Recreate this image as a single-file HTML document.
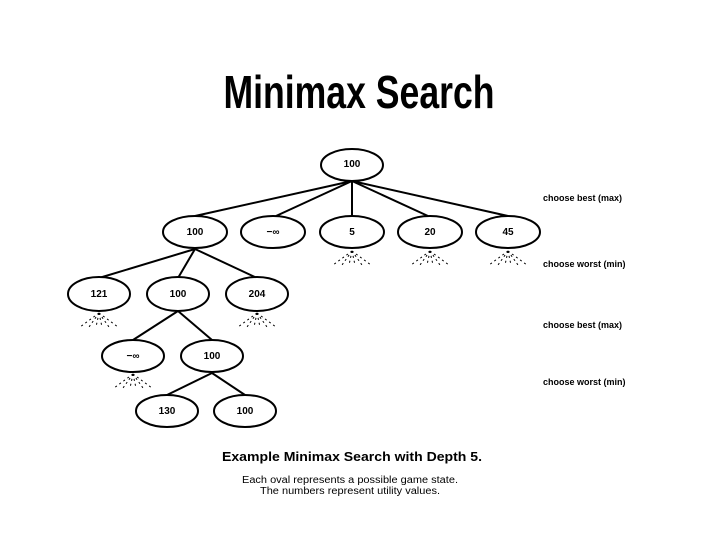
<!DOCTYPE html>
<html><head><style>html,body{margin:0;padding:0;background:#fff}</style></head>
<body>
<svg width="719" height="539" xmlns="http://www.w3.org/2000/svg" font-family="Liberation Sans, sans-serif">
<text x="359" y="108" font-size="46" font-weight="bold" text-anchor="middle" textLength="271" lengthAdjust="spacingAndGlyphs">Minimax Search</text>
<g stroke="#000" stroke-width="2" fill="none">
<line x1="352" y1="181" x2="195" y2="216"/>
<line x1="352" y1="181" x2="276" y2="216"/>
<line x1="352" y1="181" x2="352" y2="216"/>
<line x1="352" y1="181" x2="428" y2="216"/>
<line x1="352" y1="181" x2="508" y2="216"/>
<line x1="195" y1="249" x2="99" y2="278"/>
<line x1="195" y1="249" x2="178" y2="278"/>
<line x1="195" y1="249" x2="257" y2="278"/>
<line x1="178" y1="311" x2="133" y2="340"/>
<line x1="178" y1="311" x2="212" y2="340"/>
<line x1="212" y1="373" x2="167" y2="395"/>
<line x1="212" y1="373" x2="245" y2="395"/>
</g>
<defs>
<g id="fan" stroke="#000" stroke-width="1" stroke-dasharray="2,3">
<line x1="0" y1="2" x2="-19" y2="16"/>
<line x1="0" y1="2" x2="-10" y2="16"/>
<line x1="0" y1="2" x2="-3" y2="16"/>
<line x1="0" y1="2" x2="3" y2="16"/>
<line x1="0" y1="2" x2="10" y2="16"/>
<line x1="0" y1="2" x2="19" y2="16"/>
</g>
</defs>
<use href="#fan" x="352" y="249"/>
<use href="#fan" x="430" y="249"/>
<use href="#fan" x="508" y="249"/>
<use href="#fan" x="99" y="311"/>
<use href="#fan" x="257" y="311"/>
<use href="#fan" x="133" y="372"/>
<g stroke="#000" stroke-width="2" fill="#fff">
<ellipse cx="352" cy="165" rx="31" ry="16"/>
<ellipse cx="195" cy="232" rx="32" ry="16"/>
<ellipse cx="273" cy="232" rx="32" ry="16"/>
<ellipse cx="352" cy="232" rx="32" ry="16"/>
<ellipse cx="430" cy="232" rx="32" ry="16"/>
<ellipse cx="508" cy="232" rx="32" ry="16"/>
<ellipse cx="99" cy="294" rx="31" ry="17"/>
<ellipse cx="178" cy="294" rx="31" ry="17"/>
<ellipse cx="257" cy="294" rx="31" ry="17"/>
<ellipse cx="133" cy="356" rx="31" ry="16"/>
<ellipse cx="212" cy="356" rx="31" ry="16"/>
<ellipse cx="167" cy="411" rx="31" ry="16"/>
<ellipse cx="245" cy="411" rx="31" ry="16"/>
</g>
<g font-size="10" font-weight="bold" text-anchor="middle">
<text x="352" y="167">100</text>
<text x="195" y="235">100</text>
<text x="273" y="235">−∞</text>
<text x="352" y="235">5</text>
<text x="430" y="235">20</text>
<text x="508" y="235">45</text>
<text x="99" y="297">121</text>
<text x="178" y="297">100</text>
<text x="257" y="297">204</text>
<text x="133" y="359">−∞</text>
<text x="212" y="359">100</text>
<text x="167" y="414">130</text>
<text x="245" y="414">100</text>
</g>
<g font-size="9" font-weight="bold">
<text x="543" y="201">choose best (max)</text>
<text x="543" y="267">choose worst (min)</text>
<text x="543" y="328">choose best (max)</text>
<text x="543" y="385">choose worst (min)</text>
</g>
<text x="352" y="461" font-size="13" font-weight="bold" text-anchor="middle" textLength="260" lengthAdjust="spacingAndGlyphs">Example Minimax Search with Depth 5.</text>
<text x="350" y="483" font-size="10" text-anchor="middle" textLength="216" lengthAdjust="spacingAndGlyphs">Each oval represents a possible game state.</text>
<text x="350" y="494" font-size="10" text-anchor="middle" textLength="180" lengthAdjust="spacingAndGlyphs">The numbers represent utility values.</text>
</svg>
</body></html>
